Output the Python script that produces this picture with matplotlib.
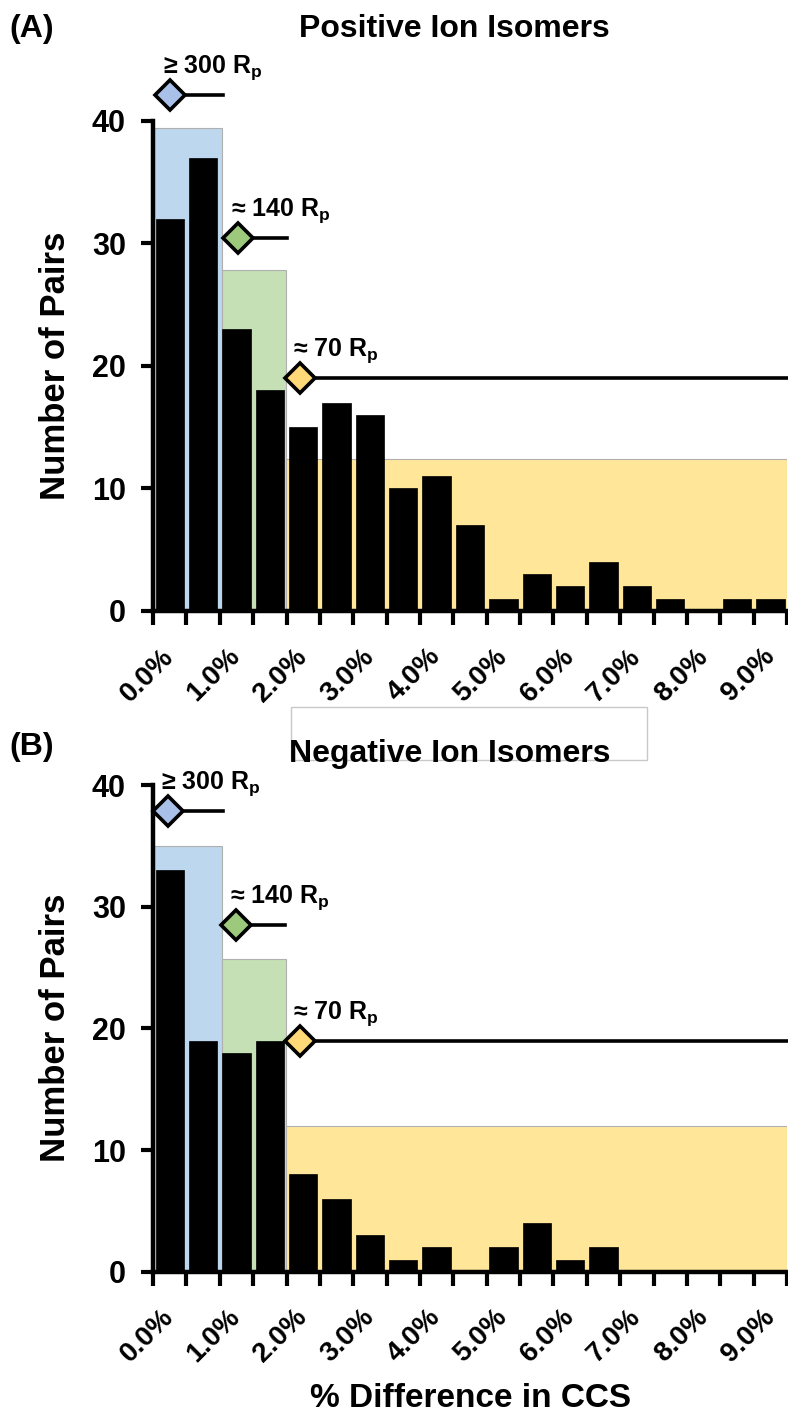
import numpy as np
import matplotlib.pyplot as plt
from matplotlib.patches import Rectangle

plt.rcParams['font.family'] = ['Liberation Sans', 'DejaVu Sans']
plt.rcParams['font.weight'] = 'bold'
plt.rcParams['mathtext.default'] = 'regular'

# binned % difference in CCS (0.5 % bins)
bin_labels = ['0.0%', '1.0%', '2.0%', '3.0%', '4.0%', '5.0%', '6.0%', '7.0%', '8.0%', '9.0%']
pos_counts = [32, 37, 23, 18, 15, 17, 16, 10, 11, 7, 1, 3, 2, 4, 2, 1, 0, 1, 1]
neg_counts = [33, 19, 18, 19, 8, 6, 3, 1, 2, 0, 2, 4, 1, 2, 0, 0, 0, 0, 0]

# resolving power tiers: shaded span edges (bin units), heights, marker position
tier_names = ['\u2265 300 R$_p$', '\u2248 140 R$_p$', '\u2248 70 R$_p$']
tier_edges = [0, 2.07, 3.97, 19]
tier_fill = ['#bdd7ee', '#c5e0b4', '#ffe699']
tier_marker = ['#a9c1e8', '#9dc97c', '#ffd978']
pos_tier_height = [39.4, 27.8, 12.4]
neg_tier_height = [35.0, 25.7, 12.0]
pos_marker_x = [0.5, 2.55, 4.4]
pos_marker_y = [42.1, 30.4, 19.0]
neg_marker_x = [0.45, 2.5, 4.4]
neg_marker_y = [37.9, 28.5, 19.0]
pos_line_end = [2.1, 4.0, 19]
neg_line_end = [2.1, 3.95, 19]


def draw_panel(ax, counts, heights, mx, my, line_end):
    n = len(counts)
    for i in range(3):
        left = tier_edges[i]
        ax.bar(left, heights[i], width=tier_edges[i + 1] - left, align='edge',
               color=tier_fill[i], edgecolor='#b0b0b0', linewidth=0.8, zorder=1)
    ax.bar(np.arange(n) + 0.5, counts, width=0.85, color='black',
           edgecolor='black', linewidth=0.5, zorder=2)
    for i in range(3):
        ax.plot([mx[i], line_end[i]], [my[i], my[i]], color='black', lw=2.6,
                clip_on=False, zorder=3)
        ax.plot(mx[i], my[i], marker='D', ms=15, mfc=tier_marker[i], mec='black',
                mew=2.6, clip_on=False, zorder=4)
        ax.annotate(tier_names[i], (mx[i], my[i]), xytext=(-5, 16),
                    textcoords='offset points', ha='left', va='baseline',
                    fontsize=18, fontweight='bold', annotation_clip=False)

    ax.set_xlim(0, n)
    ax.set_ylim(0, 40)
    ax.set_yticks([0, 10, 20, 30, 40])
    ax.set_xticks(np.arange(0, n + 1))
    ax.set_xticklabels([])
    ax.set_xticks(np.arange(0.5, n, 2), bin_labels, minor=True)
    plt.setp(ax.get_xticklabels(minor=True), rotation=45, ha='right',
             va='center', rotation_mode='anchor')
    ax.tick_params(axis='x', which='major', direction='out', length=10, width=3)
    ax.tick_params(axis='x', which='minor', length=0, pad=30, labelsize=20)
    ax.tick_params(axis='y', direction='out', length=8.5, width=3, labelsize=22, pad=11)
    for s in ['top', 'right']:
        ax.spines[s].set_visible(False)
    for s in ['left', 'bottom']:
        ax.spines[s].set_linewidth(3.2)


fig = plt.figure(figsize=(7.88, 14.14), dpi=100)

ax_pos = fig.add_axes([0.1942, 0.5679, 0.8046, 0.3467])
draw_panel(ax_pos, pos_counts, pos_tier_height, pos_marker_x, pos_marker_y, pos_line_end)

ax_neg = fig.add_axes([0.1942, 0.1006, 0.8046, 0.3442])
draw_panel(ax_neg, neg_counts, neg_tier_height, neg_marker_x, neg_marker_y, neg_line_end)

# empty frame left between the panels
fig.add_artist(Rectangle((0.3689, 0.4625), 0.4518, 0.0377, transform=fig.transFigure,
                         fill=False, edgecolor='#c8c8c8', lw=1, zorder=0))

fig.text(0.577, 0.974, 'Positive Ion Isomers', ha='center', va='baseline', fontsize=23)
fig.text(0.571, 0.4613, 'Negative Ion Isomers', ha='center', va='baseline', fontsize=23)
fig.text(0.012, 0.974, '(A)', ha='left', va='baseline', fontsize=23)
fig.text(0.012, 0.466, '(B)', ha='left', va='baseline', fontsize=23)
fig.text(0.07, 0.7414, 'Number of Pairs', rotation=90, ha='center', va='center', fontsize=25)
fig.text(0.07, 0.2731, 'Number of Pairs', rotation=90, ha='center', va='center', fontsize=25)
fig.text(0.5965, 0.005, '% Difference in CCS', ha='center', va='baseline', fontsize=24)

fig.savefig('out.png', dpi=100)
